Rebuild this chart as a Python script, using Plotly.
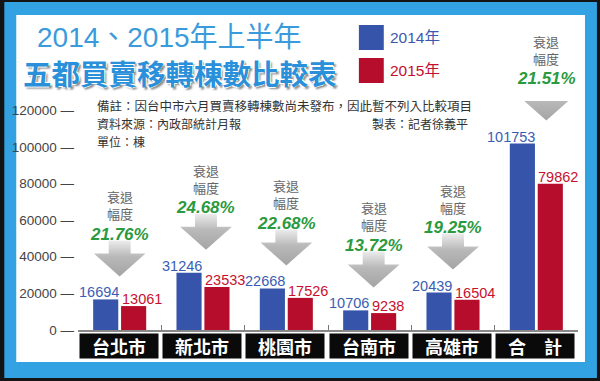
import plotly.graph_objects as go

# ---- data ----
cities = ["台北市", "新北市", "桃園市", "台南市", "高雄市", "合\u3000計"]
v2014 = [16694, 31246, 22668, 10706, 20439, 101753]
v2015 = [13061, 23533, 17526, 9238, 16504, 79862]
decline = ["21.76%", "24.68%", "22.68%", "13.72%", "19.25%", "21.51%"]
y_ticks = [0, 20000, 40000, 60000, 80000, 100000, 120000]
y_ticktext = ["0", "20000", "40000", "60000", "80000", "100000", "120000"]

# ---- geometry / styles ----
W, H = 600, 381
L, R, T, B = 76, 22, 101, 51
PW, PH = W - L - R, H - T - B
YMAX = 125000
PXY = YMAX / PH          # data units per pixel (y)
PXX = 6 / PW             # data units per pixel (x)

BLUE, RED = "#3654a9", "#b70d2c"
FRAME = "#33a2e3"
CJK = "Noto Sans CJK TC"
LAT = "Liberation Sans, Noto Sans CJK TC"


def P(px, py):
    return (px - L) / PW, (H - B - py) / PH


fig = go.Figure()
idx = list(range(len(cities)))
fig.add_trace(go.Bar(x=idx, y=v2014, marker=dict(color=BLUE, line=dict(width=0)), showlegend=False, hoverinfo="skip"))
fig.add_trace(go.Bar(x=idx, y=v2015, marker=dict(color=RED, line=dict(width=0)), showlegend=False, hoverinfo="skip"))

ann = []
arrow_nudge = [0, 3, 0, 4, 0, 10]
for i in idx:
    cx = i + arrow_nudge[i] * PXX
    tip = v2014[i] + 23 * PXY
    base = tip + 23 * PXY
    top = tip + 36 * PXY
    sw, hw = 11 * PXX, 26 * PXX
    xs = [cx - sw, cx + sw, cx + sw, cx + hw, cx, cx - hw, cx - sw, cx - sw]
    ys = [top, top, base, base, tip, base, base, top]
    fig.add_trace(go.Scatter(
        x=xs, y=ys, mode="lines", fill="toself", line=dict(width=0, color="rgba(0,0,0,0)"),
        fillgradient=dict(type="vertical", colorscale=[[0, "#a4a4a4"], [0.55, "#b9b9b9"], [1, "#ececec"]]),
        showlegend=False, hoverinfo="skip"))
    ann.append(dict(x=cx, y=tip, yshift=42, text=f"<b><i>{decline[i]}</i></b>", showarrow=False,
                    font=dict(family=LAT, size=17, color="#2a9a3e"), yanchor="middle"))
    ann.append(dict(x=cx, y=tip, yshift=71, text="衰退<br>幅度", showarrow=False,
                    font=dict(family=CJK, size=13, color="#666"), yanchor="middle"))
    # value labels
    ann.append(dict(x=i, y=v2014[i], xshift=1, yshift=-3, text=str(v2014[i]), showarrow=False,
                    xanchor="right", yanchor="bottom", font=dict(family=LAT, size=14.5, color="#3a5db3")))
    ann.append(dict(x=i, y=v2015[i], xshift=0, yshift=-3, text=str(v2015[i]), showarrow=False,
                    xanchor="left", yanchor="bottom", font=dict(family=LAT, size=14.5, color="#c8102e")))
    # category labels
    ann.append(dict(x=i, y=0, yref="paper", yanchor="top", yshift=-3, xshift=-1, text=f"<b>{cities[i]}</b>",
                    showarrow=False, bgcolor="#0a0a0a", width=74, height=20, borderpad=2,
                    font=dict(family=CJK, size=18, color="white")))


def pann(px, py, text, size, color, xanchor="center", family=CJK, **kw):
    x, y = P(px, py)
    ann.append(dict(x=x, y=y, xref="paper", yref="paper", text=text, showarrow=False,
                    xanchor=xanchor, yanchor="middle", font=dict(family=family, size=size, color=color, **kw)))


pann(168, 38, "2014、2015年上半年", 28, "#3a9bdc", family=LAT)
pann(178, 73, "<b>五都買賣移轉棟數比較表</b>", 28.5, "#2a90da",
     shadow="-1px -1px 0 #fff, 1px -1px 0 #fff, -1px 1px 0 #fff, 2px 2px 2px #888")
pann(387, 38, "2014年", 15.5, "#3d57ad", xanchor="left", family=LAT)
pann(387, 71, "2015年", 15.5, "#c21030", xanchor="left", family=LAT)
pann(93, 105, "備註：因台中市六月買賣移轉棟數尚未發布，因此暫不列入比較項目", 12.5, "#333", xanchor="left")
pann(93, 123, "資料來源：內政部統計月報", 12, "#333", xanchor="left")
pann(470, 123, "製表：記者徐義平", 12, "#333", xanchor="right")
pann(93, 141, "單位：棟", 12, "#333", xanchor="left")

shapes = []


def prect(x0, y0, x1, y1, color, layer="below"):
    a, b = P(x0, y1)
    c, d = P(x1, y0)
    shapes.append(dict(type="rect", xref="paper", yref="paper", x0=a, y0=b, x1=c, y1=d,
                       fillcolor=color, line=dict(width=0), layer=layer))


prect(2, 2, 597, 378, FRAME)
prect(14, 15, 585, 362, "white")
prect(358, 25, 383, 50, BLUE, layer="above")
prect(358, 58, 383, 83, RED, layer="above")

fig.update_layout(
    width=W, height=H, margin=dict(l=L, r=R, t=T, b=B),
    paper_bgcolor="#141414", plot_bgcolor="rgba(0,0,0,0)",
    barmode="group", bargap=0.33, bargroupgap=0.1,
    annotations=ann, shapes=shapes, showlegend=False,
    xaxis=dict(range=[-0.5, 5.5], tickvals=[i - 0.5 for i in range(7)], showticklabels=False,
               ticks="inside", ticklen=5, tickcolor="#777", tickwidth=1.2,
               showline=True, linecolor="#888", linewidth=1.5, showgrid=False, zeroline=False, fixedrange=True),
    yaxis=dict(range=[0, YMAX], tickvals=y_ticks, ticktext=[t + " —" for t in y_ticktext], ticks="",
               ticklabelstandoff=3,
               tickfont=dict(family="Liberation Sans", size=13.5, color="#444"),
               showline=False, showgrid=False, zeroline=False, fixedrange=True),
)

fig.write_html("out.html", config={"displayModeBar": False},
               post_script="document.body.style.margin='0';document.body.style.overflow='hidden';")
